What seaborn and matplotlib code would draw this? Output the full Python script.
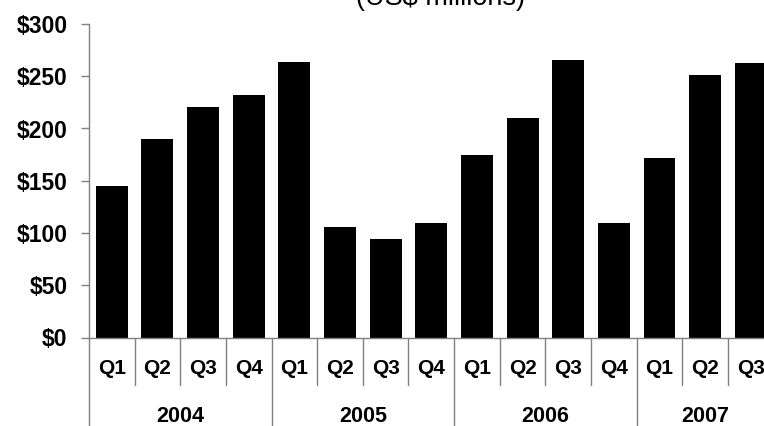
import matplotlib
matplotlib.use("Agg")
import matplotlib.pyplot as plt
import seaborn as sns
import pandas as pd

years = ["2004", "2005", "2006", "2007"]
quarters = ["Q1", "Q2", "Q3", "Q4"]
period_years = ["2004"] * 4 + ["2005"] * 4 + ["2006"] * 4 + ["2007"] * 3
period_quarters = ["Q1", "Q2", "Q3", "Q4"] * 3 + ["Q1", "Q2", "Q3"]
values = [145, 190, 221, 232, 264, 106, 94, 110, 175, 210, 266, 110, 172, 251, 263]
y_ticks = [0, 50, 100, 150, 200, 250, 300]
title_text = "(US$ millions)"

sns.set_theme(style="white")
plt.rcParams["font.family"] = ["Liberation Sans", "DejaVu Sans"]

W, H = 764, 426
fig = plt.figure(figsize=(W / 100, H / 100), dpi=100)
n = len(values)
cat_w = 45.64
left_px, bottom_px, top_px = 89, 337.5, 24
ax = fig.add_axes([left_px / W, (H - bottom_px) / H, n * cat_w / W, (bottom_px - top_px) / H])

df = pd.DataFrame({
    "period": [f"{y} {q}" for y, q in zip(period_years, period_quarters)],
    "value": values,
})
sns.barplot(data=df, x="period", y="value", color="black", width=0.70,
            saturation=1, ax=ax, edgecolor="none")

gray = "#808080"
ax.set_xlim(-0.5, n - 0.5)
ax.set_ylim(0, 300)
ax.set_yticks(y_ticks)
ax.set_yticklabels([f"${v}" for v in y_ticks], fontweight="bold", fontsize=16.5)
ax.set_xticks([])
ax.set_xlabel("")
ax.set_ylabel("")
ax.tick_params(axis="y", left=True, length=6, width=1, color=gray, pad=9.5, labelcolor="black")
for s in ["top", "right"]:
    ax.spines[s].set_visible(False)
for s in ["left", "bottom"]:
    ax.spines[s].set_color(gray)
    ax.spines[s].set_linewidth(1)
ax.grid(False)

tr = ax.get_xaxis_transform()
axh = bottom_px - top_px
q_low = -(385 - bottom_px) / axh
y_low = -(H + 10 - bottom_px) / axh
# quarter separators
for k in range(n + 1):
    ax.plot([k - 0.5, k - 0.5], [0, q_low], color=gray, lw=1, transform=tr, clip_on=False)
# year separators
idx = 0
bounds = [-0.5]
centers = []
for y in years:
    cnt = period_years.count(y)
    centers.append(idx + (cnt - 1) / 2)
    idx += cnt
    bounds.append(idx - 0.5)
for b in bounds:
    ax.plot([b, b], [q_low, y_low], color=gray, lw=1, transform=tr, clip_on=False)

q_y = -(368 - bottom_px) / axh
for i, q in enumerate(period_quarters):
    ax.text(i, q_y, q, transform=tr, ha="center", va="center",
            fontsize=15, fontweight="bold", color="black")
yr_y = -(416 - bottom_px) / axh
for c, y in zip(centers, years):
    ax.text(c, yr_y, y, transform=tr, ha="center", va="center",
            fontsize=15.5, fontweight="bold", color="black")

fig.text(441 / W, 1 - 5 / H, title_text, ha="center", va="baseline", fontsize=19.5, color="black")

fig.savefig("out.png", dpi=100)
